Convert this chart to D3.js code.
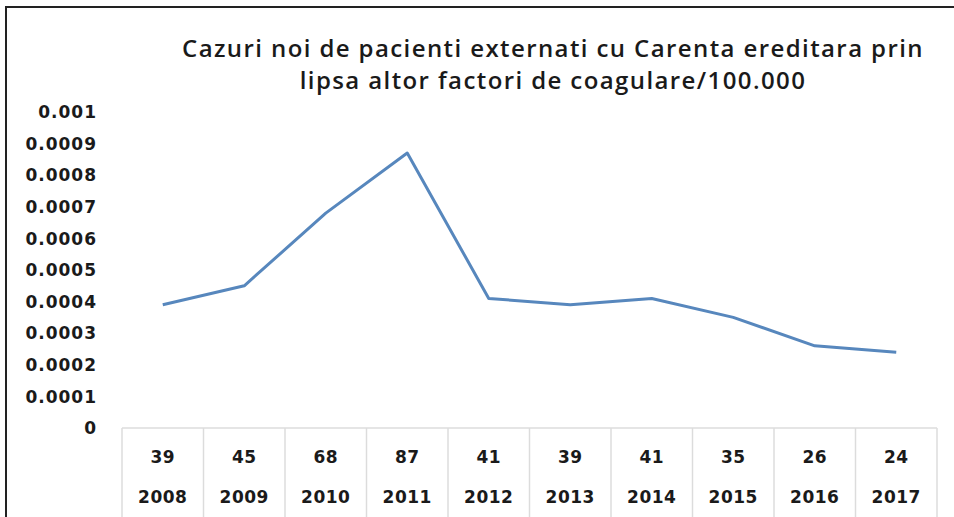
<!DOCTYPE html>
<html>
<head>
  <meta charset="UTF-8">
  <title>Cazuri noi - Carenta ereditara</title>
  <script src="https://d3js.org/d3.v7.min.js"></script>
  <style>
    body { margin: 0; background: #fff; }
    .tick-label, .cell-text {
      font-family: "DejaVu Sans", sans-serif;
      font-weight: bold;
      fill: #1a1a1a;
    }
    .title {
      font-family: "Open Sans", sans-serif;
      font-weight: 600;
      fill: #1a1a1a;
    }
  </style>
</head>
<body>
  <svg id="chart" width="954" height="517"></svg>
  <script>
    // data
    const years = ["2008", "2009", "2010", "2011", "2012", "2013", "2014", "2015", "2016", "2017"];
    const cases = [39, 45, 68, 87, 41, 39, 41, 35, 26, 24];
    const rates = [0.00039, 0.00045, 0.00068, 0.00087, 0.00041, 0.00039, 0.00041, 0.00035, 0.00026, 0.00024];
    const yTicks = [0, 0.0001, 0.0002, 0.0003, 0.0004, 0.0005, 0.0006, 0.0007, 0.0008, 0.0009, 0.001];
    const yTickLabels = ["0", "0.0001", "0.0002", "0.0003", "0.0004", "0.0005", "0.0006", "0.0007", "0.0008", "0.0009", "0.001"];
    const titleLines = ["Cazuri noi de pacienti externati cu Carenta ereditara prin", "lipsa altor factori de coagulare/100.000"];

    const svg = d3.select("#chart");

    // frame (left + top only)
    svg.append("path")
      .attr("d", "M6,517 V7 H954")
      .attr("fill", "none")
      .attr("stroke", "#222")
      .attr("stroke-width", 2);

    const x = d3.scaleBand().domain(years).range([122, 937]);
    const y = d3.scaleLinear().domain([0, 0.001]).range([428, 112]);

    // title
    svg.selectAll(".title")
      .data(titleLines)
      .enter().append("text")
      .attr("class", "title")
      .attr("x", 553)
      .attr("y", (d, i) => 57 + i * 32)
      .attr("text-anchor", "middle")
      .style("font-size", "24px")
      .style("letter-spacing", "1.4px")
      .text(d => d);

    // y axis labels
    svg.selectAll(".tick-label")
      .data(yTicks)
      .enter().append("text")
      .attr("class", "tick-label")
      .attr("x", 97)
      .attr("y", d => y(d))
      .attr("dy", "0.36em")
      .attr("text-anchor", "end")
      .style("font-size", "17px")
      .style("letter-spacing", "1px")
      .text((d, i) => yTickLabels[i]);

    // data table under the plot
    const table = svg.append("g");
    table.append("line")
      .attr("x1", x.range()[0]).attr("x2", x.range()[1])
      .attr("y1", y(0)).attr("y2", y(0))
      .attr("stroke", "#dcdcdc").attr("stroke-width", 1.5);

    const edges = years.map(d => x(d)).concat([x.range()[1]]);
    table.selectAll(".vline")
      .data(edges)
      .enter().append("line")
      .attr("class", "vline")
      .attr("x1", d => d).attr("x2", d => d)
      .attr("y1", y(0)).attr("y2", 517)
      .attr("stroke", "#dcdcdc").attr("stroke-width", 1.5);

    table.selectAll(".val")
      .data(years)
      .enter().append("text")
      .attr("class", "cell-text")
      .attr("x", d => x(d) + x.bandwidth() / 2)
      .attr("y", 457)
      .attr("dy", "0.36em")
      .attr("text-anchor", "middle")
      .style("font-size", "17px")
      .style("letter-spacing", "0.5px")
      .text((d, i) => cases[i]);

    table.selectAll(".year")
      .data(years)
      .enter().append("text")
      .attr("class", "cell-text")
      .attr("x", d => x(d) + x.bandwidth() / 2)
      .attr("y", 497)
      .attr("dy", "0.36em")
      .attr("text-anchor", "middle")
      .style("font-size", "17px")
      .style("letter-spacing", "0.5px")
      .text(d => d);

    // the line
    const line = d3.line()
      .x((d, i) => x(years[i]) + x.bandwidth() / 2)
      .y(d => y(d));

    svg.append("path")
      .datum(rates)
      .attr("fill", "none")
      .attr("stroke", "#5787bd")
      .attr("stroke-width", 3)
      .attr("stroke-linejoin", "round")
      .attr("d", line);
  </script>
</body>
</html>
